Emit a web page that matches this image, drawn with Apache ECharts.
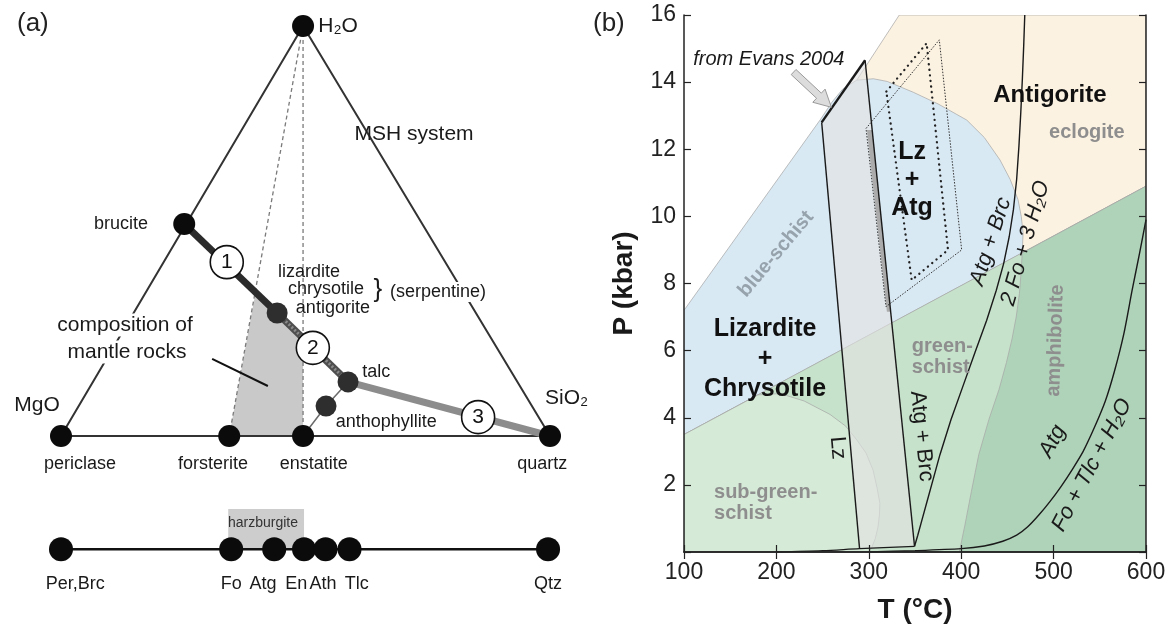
<!DOCTYPE html>
<html><head><meta charset="utf-8">
<script src="https://cdn.jsdelivr.net/npm/echarts@6/dist/echarts.min.js"></script>
<style>html,body{margin:0;padding:0;background:#fff}#c{width:1172px;height:631px}</style>
</head><body><div id="c"></div>
<script>
const FONT = '"Liberation Sans", Arial, Helvetica, sans-serif';

// ---------------- Panel (a): MSH ternary (diagram units, x 0=MgO..100=SiO2, y 0=base..100=H2O apex) ----------------
const cornerNames = ['H2O', 'MgO', 'SiO2'];
const cornerX = [49.5, 0, 100];
const cornerY = [100, 0, 0];
const phaseNames = ['periclase', 'forsterite', 'enstatite', 'quartz', 'brucite'];
const phaseX = [0, 34.4, 49.5, 100, 25.2];
const phaseY = [0, 0, 0, 0, 51.7];
const hydrousNames = ['antigorite', 'talc', 'anthophyllite'];
const hydrousX = [44.2, 58.7, 54.2];
const hydrousY = [30, 13.2, 7.3];
const stepNames = ['1', '2', '3'];
const stepX = [33.9, 51.5, 85.3];
const stepY = [42.4, 21.5, 4.6];
const mantleFieldX = [34.4, 49.5, 49.5, 44.2, 39.7];
const mantleFieldY = [0, 0, 23.9, 30, 34.5];
// projection onto the MgO-SiO2 join
const bulkNames = ['Per,Brc', 'Fo', 'Atg', 'En', 'Ath', 'Tlc', 'Qtz'];
const bulkX = [0, 34.8, 43.6, 49.7, 54.1, 59.0, 99.6];
const bulkLevel = -27.6;
const harzburgiteX = [34.2, 49.7];
const harzburgiteY = [-17.8, -27.6];

// ---------------- Panel (b): P-T diagram ----------------
const tempTicks = [100, 200, 300, 400, 500, 600];
const pressTicks = [0, 2, 4, 6, 8, 10, 12, 14, 16];
const creamField = [[287,14.06],[333,16],[600,16],[600,10.9],[300,6.43]];
const blueField = [[100,3.5],[100,7.2],[248,12.9],[260,13.4],[272,13.8],[287,14.06],[305,14.1],[320,14.02],[348,13.7],[375,13.35],[406,12.87],[425,12.35],[442,11.68],[453,11.1],[461.5,10.5],[465,10.0],[467,9.5],[466,8.91]];
const greenField = [[100,0],[100,3.5],[600,10.9],[600,0]];
const subGreenField = [[100,0],[100,3.5],[180,4.68],[204,4.72],[230,4.5],[258,4.1],[275,3.75],[287,3.34],[297,2.95],[304.6,2.44],[309,1.9],[312,1.45],[311.5,1.1],[310,0.75],[307,0.4],[303,0.12],[300,0]];
const amphField = [[398,0],[404,0.8],[411,1.8],[419,2.9],[430,3.95],[441,4.85],[449,5.65],[455,6.35],[459.5,7.0],[463,7.7],[465,8.4],[466,8.91],[600,10.9],[600,0]];
const evansField = [[249,12.8],[296,14.65],[349.5,0.17],[290,0.1]];
const sliverField = [[298,12.57],[303.7,12.57],[323.6,7.16],[319.6,7.16]];
const lzLine = [[249,12.8],[290,0.1]];
const atgBrcLine = [[296,14.65],[349.5,0.17]];
const evansTop = [[249,12.8],[296,14.65]];
const baseCurve = [[200,0],[250,0.04],[290,0.1],[349.5,0.17]];
const brcOutCurve = [[349.5,0.17],[353,0.5],[358,1.0],[364,1.6],[370,2.2],[377,2.9],[389,3.95],[402,4.95],[415,5.95],[427.5,6.9],[438,7.8],[446,8.6],[452,9.4],[456.5,10.2],[460,11.1],[462.5,12.1],[464.5,13.1],[466.2,14.1],[467.6,15.05],[468.8,16]];
const atgOutCurve = [[300,0],[350,0.04],[400,0.1],[425,0.18],[445,0.32],[460,0.5],[472,0.75],[484,1.1],[496,1.5],[508,1.95],[520,2.45],[532,3.0],[544,3.7],[556,4.5],[566,5.4],[576,6.5],[585,7.8],[593,8.9],[600,9.9]];
const dotBoxA = [[297,12.62],[376.3,15.26],[400.5,9.0],[318.6,7.31],[297,12.62]];
const dotBoxB = [[319,13.72],[362.6,15.16],[385.7,9.0],[346.4,8.1],[319,13.72]];
const arrowTail = [218.6, 14.3];
const arrowHead = [259.5, 13.25];

// ---------------- helpers ----------------
const zip = (xs, ys) => xs.map((x, i) => [x, ys[i]]);
function polySeries(ax, pts, style, z) {
  return { type: 'custom', xAxisIndex: ax, yAxisIndex: ax, z: z, silent: true, animation: false, clip: true,
    data: [pts[0]],
    renderItem: (params, api) => ({ type: 'polygon', shape: { points: pts.map(p => api.coord(p)) }, style: style }) };
}
function lineSeries(ax, pts, style, z, smooth) {
  return { type: 'line', xAxisIndex: ax, yAxisIndex: ax, data: pts, showSymbol: false, symbol: 'none',
    clip: false, silent: true, animation: false, z: z || 3, smooth: smooth || false, lineStyle: style };
}
function dotSeries(ax, pts, size, itemStyle, z, labelFn) {
  return { type: 'scatter', xAxisIndex: ax, yAxisIndex: ax, data: pts, symbol: 'circle', symbolSize: size,
    itemStyle: Object.assign({ opacity: 1 }, itemStyle), clip: false, silent: true, animation: false, z: z || 6,
    label: labelFn ? { show: true, position: 'inside', formatter: labelFn, fontFamily: FONT, fontSize: 21, color: '#111', opacity: 1 } : { show: false } };
}
function labelSeries(ax, items) {
  return { type: 'scatter', xAxisIndex: ax, yAxisIndex: ax, z: 20, silent: true, clip: false, animation: false,
    symbolSize: 1, itemStyle: { color: 'rgba(0,0,0,0)', opacity: 1 },
    data: items.map(it => ({ value: it.at,
      label: Object.assign({ show: true, position: 'inside', fontFamily: FONT, color: '#1a1a1a', fontSize: 18, opacity: 1,
        formatter: () => it.text }, it.style || {}) })) };
}

// ---------------- panel (a) series ----------------
const apex = [cornerX[0], cornerY[0]], mgo = [cornerX[1], cornerY[1]], sio2 = [cornerX[2], cornerY[2]];
const P = zip(phaseX, phaseY), H = zip(hydrousX, hydrousY);
const seriesA = [
  polySeries(0, zip(mantleFieldX, mantleFieldY), { fill: '#c9c9c9' }, 1),
  polySeries(0, [[harzburgiteX[0], harzburgiteY[0]], [harzburgiteX[1], harzburgiteY[0]], [harzburgiteX[1], harzburgiteY[1]], [harzburgiteX[0], harzburgiteY[1]]], { fill: '#cdcdcd' }, 1),
  lineSeries(0, [apex, P[1]], { color: '#7a7a7a', width: 1.3, type: [4, 3] }, 2),
  lineSeries(0, [apex, P[2]], { color: '#7a7a7a', width: 1.3, type: [4, 3] }, 2),
  lineSeries(0, [mgo, apex, sio2, mgo], { color: '#333', width: 2 }, 2),
  lineSeries(0, [P[4], H[0]], { color: '#2b2b2b', width: 7 }, 3),
  lineSeries(0, [H[0], H[1]], { color: '#4f4f4f', width: 7 }, 3),
  lineSeries(0, [H[0], H[1]], { color: '#8a8a8a', width: 3, type: [2, 2] }, 3),
  lineSeries(0, [H[1], P[3]], { color: '#8c8c8c', width: 7 }, 3),
  lineSeries(0, [P[2], H[2], H[1]], { color: '#6a6a6a', width: 1.5 }, 3),
  lineSeries(0, [[30.9, 18.8], [42.3, 12.2]], { color: '#111', width: 2 }, 3),
  lineSeries(0, [[bulkX[0], bulkLevel], [bulkX[6], bulkLevel]], { color: '#111', width: 2.5 }, 3),
  dotSeries(0, [apex].concat(P), 22, { color: '#0b0b0b' }, 6),
  dotSeries(0, H, 21, { color: '#2e2e2e' }, 6),
  dotSeries(0, zip(stepX, stepY), 33, { color: '#fff', borderColor: '#111', borderWidth: 1.6 }, 7, p => stepNames[p.dataIndex]),
  dotSeries(0, bulkX.map(x => [x, bulkLevel]), 24, { color: '#0b0b0b' }, 6),
  labelSeries(0, [
    { text: 'H₂O', at: [52.6, 100], style: { align: 'left', fontSize: 21 } },
    { text: 'MSH system', at: [72.2, 73.7], style: { fontSize: 21 } },
    { text: 'brucite', at: [17.8, 51.7], style: { align: 'right', fontSize: 18 } },
    { text: 'lizardite', at: [50.7, 40], style: { fontSize: 18 } },
    { text: 'chrysotile', at: [54.2, 35.9], style: { fontSize: 18 } },
    { text: 'antigorite', at: [55.6, 31.3], style: { fontSize: 18 } },
    { text: '}', at: [64.8, 35.6], style: { fontSize: 26 } },
    { text: '(serpentine)', at: [77.1, 35.1], style: { fontSize: 18, backgroundColor: '#fff', padding: [1, 2] } },
    { text: 'composition of', at: [13.1, 27.1], style: { fontSize: 21, backgroundColor: '#fff', padding: [1, 2] } },
    { text: 'mantle rocks', at: [13.5, 20.5], style: { fontSize: 21, backgroundColor: '#fff', padding: [1, 2] } },
    { text: 'talc', at: [61.6, 15.6], style: { align: 'left', fontSize: 18 } },
    { text: 'anthophyllite', at: [66.5, 3.4], style: { fontSize: 18 } },
    { text: 'MgO', at: [-4.9, 7.6], style: { fontSize: 21 } },
    { text: 'SiO₂', at: [99, 9.3], style: { align: 'left', fontSize: 21 } },
    { text: 'periclase', at: [3.9, -6.8], style: { fontSize: 18 } },
    { text: 'forsterite', at: [31.1, -6.8], style: { fontSize: 18 } },
    { text: 'enstatite', at: [51.7, -6.8], style: { fontSize: 18 } },
    { text: 'quartz', at: [98.4, -6.8], style: { fontSize: 18 } },
    { text: 'harzburgite', at: [41.3, -21.2], style: { fontSize: 14, color: '#333' } },
    { text: bulkNames[0], at: [2.9, -36.1], style: { fontSize: 18 } },
    { text: bulkNames[1], at: [34.8, -36.1], style: { fontSize: 18 } },
    { text: bulkNames[2], at: [41.3, -36.1], style: { fontSize: 18 } },
    { text: bulkNames[3], at: [48.1, -36.1], style: { fontSize: 18 } },
    { text: bulkNames[4], at: [53.6, -36.1], style: { fontSize: 18 } },
    { text: bulkNames[5], at: [60.5, -36.1], style: { fontSize: 18 } },
    { text: bulkNames[6], at: [99.6, -36.1], style: { fontSize: 18 } }
  ])
];

// ---------------- panel (b) series ----------------
const edge = { stroke: '#a5a5a5', lineWidth: 0.7 };
const arrowSeries = { type: 'custom', xAxisIndex: 1, yAxisIndex: 1, z: 9, silent: true, animation: false, data: [arrowTail],
  renderItem: (params, api) => {
    const a = api.coord(arrowTail), b = api.coord(arrowHead);
    const dx = b[0] - a[0], dy = b[1] - a[1], L = Math.hypot(dx, dy), ux = dx / L, uy = dy / L, nx = -uy, ny = ux;
    const hl = 17, hw = 9, sw = 3.5, bx = b[0] - ux * hl, by = b[1] - uy * hl;
    const pts = [[a[0] + nx * sw, a[1] + ny * sw], [bx + nx * sw, by + ny * sw], [bx + nx * hw, by + ny * hw], [b[0], b[1]],
      [bx - nx * hw, by - ny * hw], [bx - nx * sw, by - ny * sw], [a[0] - nx * sw, a[1] - ny * sw]];
    return { type: 'polygon', shape: { points: pts }, style: { fill: '#dcdcdc', stroke: '#9a9a9a', lineWidth: 1 } };
  } };
const gray = '#8e8e8e';
const seriesB = [
  polySeries(1, creamField, Object.assign({ fill: '#fcf2e1' }, edge), 1),
  polySeries(1, blueField, Object.assign({ fill: '#d9e9f4' }, edge), 1),
  polySeries(1, greenField, Object.assign({ fill: '#c7e2cb' }, edge), 1),
  polySeries(1, subGreenField, Object.assign({ fill: '#d6ebd7' }, edge), 1),
  polySeries(1, amphField, Object.assign({ fill: '#afd3b9' }, edge), 1),
  polySeries(1, evansField, { fill: 'rgba(226,226,226,0.62)' }, 2),
  polySeries(1, sliverField, { fill: '#ababab' }, 2),
  lineSeries(1, lzLine, { color: '#1a1a1a', width: 1.4 }, 4),
  lineSeries(1, atgBrcLine, { color: '#1a1a1a', width: 1.4 }, 4),
  lineSeries(1, evansTop, { color: '#1a1a1a', width: 2.4 }, 4),
  lineSeries(1, baseCurve, { color: '#1a1a1a', width: 1.3 }, 4, 0.3),
  lineSeries(1, brcOutCurve, { color: '#1a1a1a', width: 1.4 }, 4, false),
  lineSeries(1, atgOutCurve, { color: '#1a1a1a', width: 1.4 }, 4, 0.25),
  lineSeries(1, dotBoxA, { color: '#333', width: 1, type: [1.5, 1.5] }, 4),
  lineSeries(1, dotBoxB, { color: '#222', width: 2.3, type: [0.1, 5.5], cap: 'round' }, 4),
  arrowSeries,
  labelSeries(1, [
    { text: 'from Evans 2004', at: [110, 14.67], style: { align: 'left', fontStyle: 'italic', fontSize: 20 } },
    { text: 'Antigorite', at: [496, 13.6], style: { fontWeight: 'bold', fontSize: 24, color: '#111' } },
    { text: 'eclogite', at: [536, 12.49], style: { fontWeight: 'bold', fontSize: 20, color: gray } },
    { text: 'Lz\n+\nAtg', at: [346.8, 11.08], style: { fontWeight: 'bold', fontSize: 25, lineHeight: 28, color: '#111' } },
    { text: 'blue-schist', at: [199.6, 8.88], style: { fontWeight: 'bold', fontSize: 20, color: '#96a2ac', rotate: 50 } },
    { text: 'Atg + Brc', at: [432, 9.25], style: { fontStyle: 'italic', fontSize: 22, rotate: 72 } },
    { text: '2 Fo + 3 H₂O', at: [469.5, 9.2], style: { fontStyle: 'italic', fontSize: 22, rotate: 74 } },
    { text: 'Lizardite\n+\nChrysotile', at: [187.7, 5.75], style: { fontWeight: 'bold', fontSize: 25, lineHeight: 30, color: '#111' } },
    { text: 'green-\nschist', at: [346.6, 5.82], style: { fontWeight: 'bold', fontSize: 20, lineHeight: 21, color: gray, align: 'left' } },
    { text: 'amphibolite', at: [502, 6.3], style: { fontWeight: 'bold', fontSize: 20, color: gray, rotate: 88 } },
    { text: 'sub-green-\nschist', at: [132.5, 1.47], style: { fontWeight: 'bold', fontSize: 20, lineHeight: 21, color: gray, align: 'left' } },
    { text: 'Lz', at: [266.5, 3.1], style: { fontSize: 22, rotate: -85 } },
    { text: 'Atg + Brc', at: [357.3, 3.45], style: { fontSize: 22, rotate: -84 } },
    { text: 'Atg', at: [499, 3.3], style: { fontStyle: 'italic', fontSize: 22, rotate: 62 } },
    { text: 'Fo + Tlc + H₂O', at: [541.6, 2.59], style: { fontStyle: 'italic', fontSize: 22, rotate: 62 } }
  ])
];

const axisLine = { show: true, lineStyle: { color: '#222', width: 1.5 } };
const tick = { show: true, inside: true, length: 7, lineStyle: { color: '#222', width: 1.2 } };
const option = {
  backgroundColor: '#fff',
  animation: false,
  textStyle: { fontFamily: FONT },
  title: [
    { text: '(a)', left: 12, top: 6, textStyle: { fontFamily: FONT, fontSize: 26, fontWeight: 'normal', color: '#222' } },
    { text: '(b)', left: 588, top: 6, textStyle: { fontFamily: FONT, fontSize: 26, fontWeight: 'normal', color: '#222' } }
  ],
  grid: [
    { left: 61, top: 26, width: 489, height: 574, outerBoundsMode: 'none' },
    { left: 684, top: 15, width: 462, height: 537, outerBoundsMode: 'none' }
  ],
  xAxis: [
    { gridIndex: 0, type: 'value', min: 0, max: 100, show: false },
    { gridIndex: 1, type: 'value', min: tempTicks[0], max: tempTicks[tempTicks.length - 1], interval: 100, position: 'bottom', z: 10,
      axisLine: axisLine, axisTick: tick, splitLine: { show: false },
      axisLabel: { fontFamily: FONT, fontSize: 23, color: '#222', margin: 9 },
      name: 'T (°C)', nameLocation: 'middle', nameGap: 44,
      nameTextStyle: { fontFamily: FONT, fontSize: 28, fontWeight: 'bold', color: '#1a1a1a' } },
    { gridIndex: 1, type: 'value', min: tempTicks[0], max: tempTicks[tempTicks.length - 1], interval: 100, position: 'top', z: 10,
      axisLine: axisLine, axisTick: tick, splitLine: { show: false }, axisLabel: { show: false } }
  ],
  yAxis: [
    { gridIndex: 0, type: 'value', min: -40, max: 100, show: false },
    { gridIndex: 1, type: 'value', min: pressTicks[0], max: pressTicks[pressTicks.length - 1], interval: 2, position: 'left', z: 10,
      axisLine: axisLine, axisTick: tick, splitLine: { show: false },
      axisLabel: { fontFamily: FONT, fontSize: 23, color: '#222', margin: 8, formatter: v => (v === 0 ? '' : String(v)) },
      name: 'P (kbar)', nameLocation: 'middle', nameGap: 46, nameRotate: 90,
      nameTextStyle: { fontFamily: FONT, fontSize: 28, fontWeight: 'bold', color: '#1a1a1a' } },
    { gridIndex: 1, type: 'value', min: pressTicks[0], max: pressTicks[pressTicks.length - 1], interval: 2, position: 'right', z: 10,
      axisLine: axisLine, axisTick: tick, splitLine: { show: false }, axisLabel: { show: false } }
  ],
  series: seriesA.concat(seriesB)
};
const chart = echarts.init(document.getElementById('c'));
chart.setOption(option);
</script></body></html>
